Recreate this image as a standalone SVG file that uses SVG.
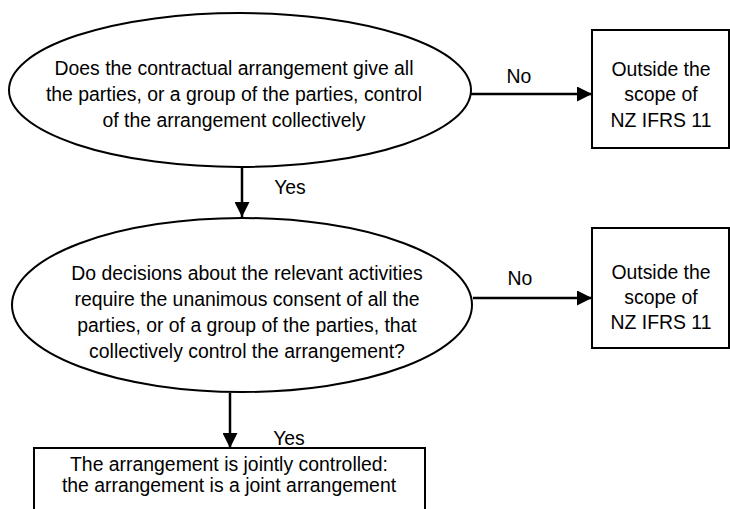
<svg xmlns="http://www.w3.org/2000/svg" width="730" height="509" viewBox="0 0 730 509">
<style>
.shape{fill:#fff;stroke:#000;stroke-width:2}
.t{font-family:"Liberation Sans",Arial,sans-serif;font-size:19.4px;fill:#000;text-anchor:middle}
.c{stroke:#000;stroke-width:2.5;fill:none}
</style>
<defs>
<marker id="ah" viewBox="0 0 10 10" refX="10" refY="5" markerWidth="6" markerHeight="6" markerUnits="strokeWidth" orient="auto">
<path d="M0,0 L10,5 L0,10 z" fill="#000"/>
</marker>
</defs>
<rect width="730" height="509" fill="#fff"/>
<g id="connectors">
<line class="c" x1="471" y1="94" x2="592" y2="94" marker-end="url(#ah)"/>
<line class="c" x1="242" y1="166" x2="242" y2="217" marker-end="url(#ah)"/>
<line class="c" x1="473" y1="298" x2="592" y2="298" marker-end="url(#ah)"/>
<line class="c" x1="230" y1="393" x2="230" y2="448" marker-end="url(#ah)"/>
<text class="t" x="519" y="83">No</text>
<text class="t" x="290" y="194">Yes</text>
<text class="t" x="520" y="285">No</text>
<text class="t" x="289" y="445">Yes</text>
</g>
<g id="q1">
<ellipse class="shape" cx="240" cy="90" rx="231" ry="77"/>
<text class="t" x="234" y="75">Does the contractual arrangement give all</text>
<text class="t" x="234" y="101">the parties, or a group of the parties, control</text>
<text class="t" x="234" y="127">of the arrangement collectively</text>
</g>
<g id="out1">
<rect class="shape" x="592" y="30" width="137" height="118"/>
<text class="t" x="661" y="76">Outside the</text>
<text class="t" x="661" y="101">scope of</text>
<text class="t" x="661" y="127">NZ IFRS 11</text>
</g>
<g id="q2">
<ellipse class="shape" cx="242" cy="305" rx="230" ry="87"/>
<text class="t" x="247" y="280">Do decisions about the relevant activities</text>
<text class="t" x="247" y="306">require the unanimous consent of all the</text>
<text class="t" x="247" y="332">parties, or of a group of the parties, that</text>
<text class="t" x="247" y="358">collectively control the arrangement?</text>
</g>
<g id="out2">
<rect class="shape" x="592" y="228" width="137" height="120"/>
<text class="t" x="661" y="279">Outside the</text>
<text class="t" x="661" y="304">scope of</text>
<text class="t" x="661" y="329">NZ IFRS 11</text>
</g>
<g id="result">
<rect class="shape" x="34" y="448" width="391" height="70"/>
<text class="t" x="229" y="471">The arrangement is jointly controlled:</text>
<text class="t" x="229" y="492">the arrangement is a joint arrangement</text>
</g>
</svg>
